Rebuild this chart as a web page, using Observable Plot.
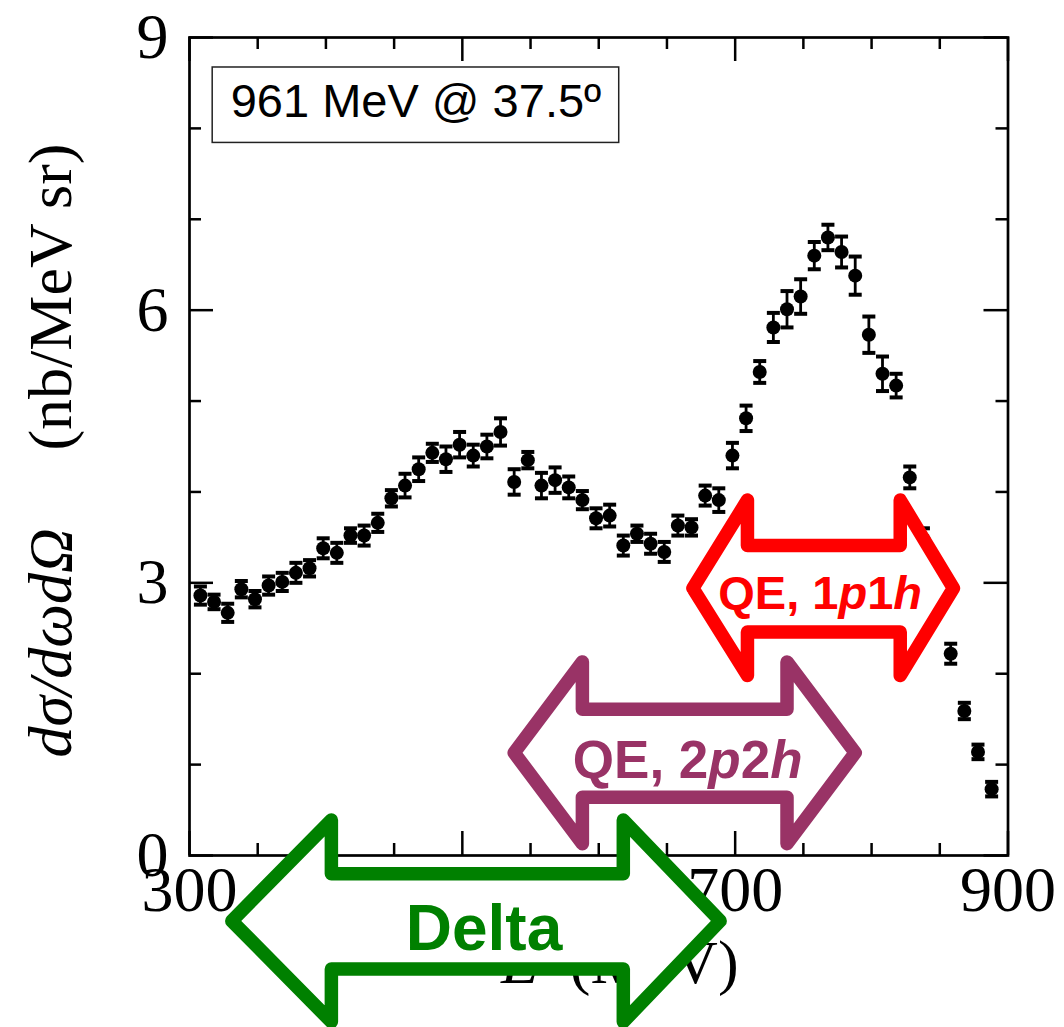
<!DOCTYPE html>
<html>
<head>
<meta charset="utf-8">
<script src="https://cdn.jsdelivr.net/npm/d3@7"></script>
<script src="https://cdn.jsdelivr.net/npm/@observablehq/plot@0.6"></script>
<style>
  body { margin: 0; background: #fff; }
  #chart svg { display: block; }
</style>
</head>
<body>
<div id="chart"></div>
<script>
// Inclusive electron scattering cross section, 961 MeV beam at 37.5 degrees
const energy = [308, 318, 328, 338, 348, 358, 368, 378, 388, 398,
                408, 418, 428, 438, 448, 458, 468, 478, 488, 498,
                508, 518, 528, 538, 548, 558, 568, 578, 588, 598,
                608, 618, 628, 638, 648, 658, 668, 678, 688, 698,
                708, 718, 728, 738, 748, 758, 768, 778, 788, 798,
                808, 818, 828, 838, 848, 858, 868, 878, 888];
const xsec = [2.86, 2.79, 2.67, 2.93, 2.82, 2.97, 3.01, 3.11, 3.16, 3.38,
              3.33, 3.52, 3.52, 3.66, 3.93, 4.07, 4.25, 4.43, 4.36, 4.52,
              4.40, 4.50, 4.66, 4.11, 4.35, 4.07, 4.13, 4.05, 3.91, 3.71,
              3.74, 3.41, 3.54, 3.43, 3.34, 3.63, 3.61, 3.96, 3.91, 4.40,
              4.81, 5.32, 5.81, 6.01, 6.15, 6.60, 6.80, 6.64, 6.38, 5.73,
              5.30, 5.17, 4.16, 3.48, 2.85, 2.22, 1.59, 1.14, 0.73];
const xsecErr = [0.10, 0.08, 0.10, 0.09, 0.09, 0.10, 0.10, 0.11, 0.09, 0.11,
                 0.11, 0.08, 0.11, 0.10, 0.09, 0.13, 0.13, 0.10, 0.14, 0.14,
                 0.12, 0.13, 0.15, 0.14, 0.09, 0.14, 0.14, 0.12, 0.10, 0.11,
                 0.12, 0.11, 0.09, 0.11, 0.11, 0.11, 0.09, 0.11, 0.13, 0.14,
                 0.14, 0.12, 0.16, 0.20, 0.19, 0.15, 0.14, 0.17, 0.21, 0.20,
                 0.19, 0.13, 0.12, 0.12, 0.10, 0.11, 0.09, 0.08, 0.08];

// Axis ticks
const xTicksMajor = [300, 500, 700, 900];
const xTicksMinor = [350, 400, 450, 550, 600, 650, 750, 800, 850];
const yTicksMajor = [0, 3, 6, 9];
const yTicksMinor = [1, 2, 4, 5, 7, 8];

// Reaction-region arrows (energies in MeV, heights in nb/MeV sr)
const arrowLabel      = ["QE, 1p1h", "QE, 2p2h", "Delta"];
const arrowColor      = ["#ff0000", "#993366", "#008000"];
const arrowTipLeft    = [669, 538, 331];
const arrowBaseLeft   = [709, 588, 404];
const arrowBaseRight  = [821, 738, 618];
const arrowTipRight   = [860, 788, 689];
const arrowMid        = [2.94, 1.13, -0.72];
const arrowShaftTop   = [3.41, 1.61, -0.20];
const arrowShaftBot   = [2.46, 0.64, -1.25];
const arrowHeadTop    = [3.91, 2.13, 0.39];
const arrowHeadBot    = [1.98, 0.13, -1.83];

// Kinematics box
const insetText = "961 MeV @ 37.5º";
const insetBox = {x1: 317, x2: 615, y1: 7.84, y2: 8.67};

// Labels that mix upright and italic runs
const styledRuns = {
  "QE, 1p1h": [["QE, 1", false], ["p", true], ["1", false], ["h", true]],
  "QE, 2p2h": [["QE, 2", false], ["p", true], ["2", false], ["h", true]],
  "E (MeV)": [["E", true], ["\u2002(MeV)", false]],
  "dσ/dωdΩ (nb/MeV sr)": [["dσ/dωdΩ", true], ["\u2003 (nb/MeV sr)", false]]
};

const points = energy.map((E, i) => ({E, v: xsec[i], err: xsecErr[i]}));

const W = 1064, H = 1027;
const mL = 189, mR = 56.5, mT = 37, mB = 172;
const plotW = W - mL - mR, plotH = H - mT - mB;
const minorLen = 12, majorLen = 24;
const serif = "'Liberation Serif', 'Times New Roman', serif";
const sans = "'Liberation Sans', Arial, sans-serif";

// horizontal bar used as error-bar cap
const capSymbol = {draw(ctx) { ctx.moveTo(-6.5, 0); ctx.lineTo(6.5, 0); }};

function arrowOutline(i) {
  const c = arrowMid[i];
  return [
    [arrowTipLeft[i], c], [arrowBaseLeft[i], arrowHeadTop[i]], [arrowBaseLeft[i], arrowShaftTop[i]],
    [arrowBaseRight[i], arrowShaftTop[i]], [arrowBaseRight[i], arrowHeadTop[i]], [arrowTipRight[i], c],
    [arrowBaseRight[i], arrowHeadBot[i]], [arrowBaseRight[i], arrowShaftBot[i]],
    [arrowBaseLeft[i], arrowShaftBot[i]], [arrowBaseLeft[i], arrowHeadBot[i]], [arrowTipLeft[i], c]
  ].map(([x, y]) => ({x, y}));
}

const labelFont = [47, 53, 64];
const labelShift = [[-3, 6], [3, 8], [8, 9]];

const arrowMarks = arrowLabel.flatMap((label, i) => [
  Plot.line(arrowOutline(i), {x: "x", y: "y", fill: "white", stroke: arrowColor[i], strokeWidth: 13.5,
    strokeLinejoin: "round", strokeLinecap: "round"}),
  Plot.text([label], {x: (arrowTipLeft[i] + arrowTipRight[i]) / 2, y: arrowMid[i], text: d => d,
    fill: arrowColor[i], fontSize: labelFont[i], fontWeight: "bold", fontFamily: sans,
    dx: labelShift[i][0], dy: labelShift[i][1]})
]);

const chart = Plot.plot({
  width: W, height: H,
  marginLeft: mL, marginRight: mR, marginTop: mT, marginBottom: mB,
  x: {domain: [300, 900]},
  y: {domain: [0, 9]},
  style: {background: "white", color: "black", fontFamily: serif},
  marks: [
    // inward ticks on all four sides
    Plot.tickX(xTicksMinor, {x: d => d, insetTop: plotH - minorLen, strokeWidth: 2.5}),
    Plot.tickX(xTicksMinor, {x: d => d, insetBottom: plotH - minorLen, strokeWidth: 2.5}),
    Plot.tickX(xTicksMajor, {x: d => d, insetTop: plotH - majorLen, strokeWidth: 2.5}),
    Plot.tickX(xTicksMajor, {x: d => d, insetBottom: plotH - majorLen, strokeWidth: 2.5}),
    Plot.tickY(yTicksMinor, {y: d => d, insetRight: plotW - minorLen, strokeWidth: 2.5}),
    Plot.tickY(yTicksMinor, {y: d => d, insetLeft: plotW - minorLen, strokeWidth: 2.5}),
    Plot.tickY(yTicksMajor, {y: d => d, insetRight: plotW - majorLen, strokeWidth: 2.5}),
    Plot.tickY(yTicksMajor, {y: d => d, insetLeft: plotW - majorLen, strokeWidth: 2.5}),
    Plot.frame({stroke: "black", strokeWidth: 2.7}),
    Plot.axisX(xTicksMajor, {anchor: "bottom", tickSize: 0, tickPadding: 10, fontSize: 64,
      fontFamily: serif, label: null, tickFormat: d => String(d)}),
    Plot.axisY(yTicksMajor, {anchor: "left", tickSize: 0, tickPadding: 21, fontSize: 64,
      fontFamily: serif, label: null, tickFormat: d => String(d)}),
    Plot.text(["E (MeV)"], {frameAnchor: "bottom", text: d => d, dx: 21, dy: 127,
      textAnchor: "middle", fontSize: 62, fontFamily: serif}),
    Plot.text(["dσ/dωdΩ (nb/MeV sr)"], {frameAnchor: "left", text: d => d, rotate: -90,
      textAnchor: "middle", dx: -138, dy: 4, fontSize: 62, fontFamily: serif}),
    // kinematics box
    Plot.rect([insetBox], {x1: "x1", x2: "x2", y1: "y1", y2: "y2", fill: "white",
      stroke: "#222", strokeWidth: 1.5}),
    Plot.text([insetText], {x: (insetBox.x1 + insetBox.x2) / 2, y: (insetBox.y1 + insetBox.y2) / 2,
      text: d => d, fontSize: 47, fontFamily: sans, dy: -3}),
    // data with error bars
    Plot.ruleX(points, {x: "E", y1: d => d.v - d.err, y2: d => d.v + d.err, stroke: "black", strokeWidth: 2.8}),
    Plot.dot(points, {x: "E", y: d => d.v + d.err, symbol: capSymbol, fill: "none", stroke: "black", strokeWidth: 4}),
    Plot.dot(points, {x: "E", y: d => d.v - d.err, symbol: capSymbol, fill: "none", stroke: "black", strokeWidth: 4}),
    Plot.dot(points, {x: "E", y: "v", r: 7, fill: "black", stroke: "none"}),
    ...arrowMarks
  ]
});

// split mixed-style labels into upright / italic runs
d3.select(chart).selectAll("text").each(function() {
  const runs = styledRuns[this.textContent];
  if (!runs) return;
  const t = d3.select(this).text(null);
  for (const [s, italic] of runs) {
    t.append("tspan").attr("font-style", italic ? "italic" : "normal").text(s);
  }
});

document.getElementById("chart").append(chart);
</script>
</body>
</html>
